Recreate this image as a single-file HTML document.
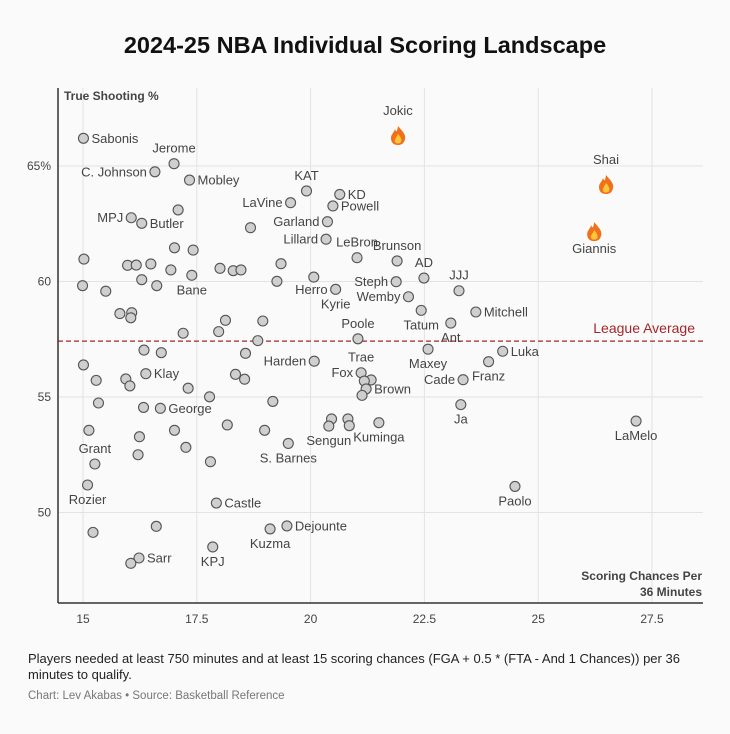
<!DOCTYPE html>
<html><head><meta charset="utf-8">
<style>
body{margin:0;background:#fafafa;width:730px;height:729px;overflow:hidden;font-family:"Liberation Sans",sans-serif;}
svg text{font-family:"Liberation Sans",sans-serif;}
</style></head>
<body>
<svg id="chart" width="730" height="729" xmlns="http://www.w3.org/2000/svg">
<rect width="730" height="729" fill="#fafafa"/>
<text x="365" y="53" text-anchor="middle" font-size="23.5" font-weight="bold" fill="#111">2024-25 NBA Individual Scoring Landscape</text>
<g id="grid"></g>
<g id="marks"></g>
<g id="labels"></g>
<line x1="58" y1="88" x2="58" y2="603" stroke="#333" stroke-width="1.5"/>
<line x1="58" y1="603" x2="703" y2="603" stroke="#333" stroke-width="1.5"/>
<text x="64" y="100" font-size="12" font-weight="bold" fill="#444">True Shooting %</text>
<text x="702" y="580" text-anchor="end" font-size="12" font-weight="bold" fill="#444">Scoring Chances Per</text>
<text x="702" y="596" text-anchor="end" font-size="12" font-weight="bold" fill="#444">36 Minutes</text>
<text x="28" y="663" font-size="13" fill="#222">Players needed at least 750 minutes and at least 15 scoring chances (FGA + 0.5 * (FTA - And 1 Chances)) per 36</text>
<text x="28" y="679" font-size="13" fill="#222">minutes to qualify.</text>
<text x="28" y="699" font-size="11.5" fill="#777">Chart: Lev Akabas • Source: Basketball Reference</text>
</svg>
<script>
const xTicks=[15,17.5,20,22.5,25,27.5];
const xTickLabels=["15","17.5","20","22.5","25","27.5"];
const yTicks=[50,55,60,65];
const yTickLabels=["50","55","60","65%"];
const leagueAvg=57.42;
const chanceVals=[15.01,17.0,16.58,17.34,17.09,16.06,16.29,18.68,19.91,19.56,20.64,20.49,20.37,20.34,21.02,15.02,17.01,17.42,15.98,16.17,16.49,19.35,16.93,18.01,18.30,18.47,17.39,16.29,16.62,14.99,15.50,19.26,20.07,20.55,15.81,16.07,16.05,18.13,18.95,17.20,17.98,18.84,21.04,21.90,22.49,23.26,21.88,22.15,22.43,23.63,23.08,22.58,24.22,23.91,23.35,23.30,20.08,21.11,21.33,21.18,21.22,21.13,20.46,20.40,20.82,20.85,21.50,19.51,16.34,16.72,18.57,15.01,15.29,15.94,16.03,16.38,17.31,17.78,18.35,18.55,19.17,15.34,16.33,16.70,15.13,16.24,17.01,18.17,18.99,17.26,16.21,15.26,17.80,15.10,17.93,15.22,16.61,19.11,19.48,17.85,16.23,16.05,24.49,27.15];
const tsVals=[66.2,65.1,64.75,64.39,63.1,62.76,62.52,62.33,63.92,63.41,63.77,63.27,62.59,61.83,61.03,60.97,61.46,61.36,60.70,60.71,60.76,60.77,60.50,60.57,60.47,60.50,60.27,60.08,59.82,59.82,59.58,60.01,60.19,59.66,58.61,58.65,58.43,58.32,58.29,57.76,57.83,57.44,57.52,60.89,60.15,59.60,59.99,59.34,58.75,58.68,58.20,57.07,56.98,56.53,55.75,54.67,56.55,56.05,55.74,55.69,55.35,55.07,54.05,53.74,54.05,53.76,53.89,52.99,57.03,56.92,56.89,56.39,55.72,55.78,55.48,56.01,55.38,55.01,55.98,55.77,54.81,54.74,54.55,54.51,53.56,53.28,53.56,53.79,53.56,52.82,52.50,52.10,52.20,51.19,50.41,49.14,49.40,49.29,49.42,48.51,48.03,47.80,51.13,53.96];
const fireNames=["Jokic","Shai","Giannis"];
const fireX=[21.92,26.49,26.23];
const fireY=[66.3,64.18,62.14];
// labels: [name, pointIndex, placement]
const labelList=[["Sabonis",0,"r"],["Jerome",1,"a"],["C. Johnson",2,"l"],["Mobley",3,"r"],["MPJ",5,"l"],["Butler",6,"r"],["KAT",8,"a"],["LaVine",9,"l"],["KD",10,"r"],["Powell",11,"r"],["Garland",12,"l"],["Lillard",13,"l"],["LeBron",14,"a"],["Brunson",43,"a"],["AD",44,"a"],["JJJ",45,"a"],["Steph",46,"l"],["Wemby",47,"l"],["Herro",33,"l"],["Kyrie",33,"b"],["Poole",42,"a"],["Tatum",48,"b"],["Mitchell",49,"r"],["Ant",50,"b"],["Luka",52,"r"],["Maxey",51,"b"],["Franz",53,"b"],["Cade",54,"l"],["Ja",55,"b"],["Harden",56,"l"],["Trae",57,"a"],["Fox",57,"l"],["Brown",60,"r"],["Sengun",63,"b"],["Kuminga",66,"b"],["S. Barnes",67,"b"],["Bane",26,"b"],["Klay",75,"r"],["George",83,"r"],["Grant",91,"a"],["Rozier",93,"b"],["Castle",94,"r"],["Dejounte",98,"r"],["Kuzma",97,"b"],["KPJ",99,"b"],["Sarr",100,"r"],["Paolo",102,"b"],["LaMelo",103,"b"]];
const X=v=>83+(v-15)*45.52;
const Y=v=>166-(v-65)*23.1;
const NS="http://www.w3.org/2000/svg";
function mk(tag,attrs,parent){const e=document.createElementNS(NS,tag);for(const k in attrs)e.setAttribute(k,attrs[k]);parent.appendChild(e);return e;}
const grid=document.getElementById('grid'),marks=document.getElementById('marks'),labs=document.getElementById('labels');
xTicks.forEach((t,i)=>{
 const l=mk('line',{x1:X(t),x2:X(t),y1:88,y2:603,stroke:'#e3e3e3','stroke-width':1},grid);
 
 
 const tx=mk('text',{x:X(t),y:623,'text-anchor':'middle','font-size':12,fill:'#444'},grid);
 tx.textContent=xTickLabels[i];
 
 
});
yTicks.forEach((t,i)=>{
 const l=mk('line',{x1:58,x2:703,y1:Y(t),y2:Y(t),stroke:'#e3e3e3','stroke-width':1},grid);
 
 
 const tx=mk('text',{x:51,y:Y(t)+4,'text-anchor':'end','font-size':12,fill:'#444'},grid);
 tx.textContent=yTickLabels[i];
 
 
});
const avg=mk('line',{x1:58,x2:703,y1:Y(leagueAvg),y2:Y(leagueAvg),stroke:'#a3262a','stroke-width':1.3,'stroke-dasharray':'5,3'},grid);


const avgT=mk('text',{x:695,y:Y(leagueAvg)-8,'text-anchor':'end','font-size':14,fill:'#a3262a'},grid);
avgT.textContent='League Average';


chanceVals.forEach((v,i)=>{
 const c=mk('circle',{cx:X(v),cy:Y(tsVals[i]),r:5,fill:'#cfcfcf',stroke:'#555','stroke-width':1.1},marks);
 
 
});
fireNames.forEach((n,i)=>{
 const cx=X(fireX[i]),cy=Y(fireY[i]);
 const g=mk('g',{transform:`translate(${cx},${cy})`},marks);
 
 
 mk('path',{d:'M0,-10 C4,-5 8,-2 7,3 C6,8 3,9 0,9 C-4,9 -7,7 -7,2 C-7,-2 -4,-3 -3,-7 C-2,-4 -1,-3 0,-10Z',fill:'#f0701c'},g);
 mk('path',{d:'M0,-2 C3,1 4,4 3,6 C2,8 -2,8 -3,6 C-4,4 -2,2 0,-2Z',fill:'#ffc53a'},g);
 const t=mk('text',{x:cx,y:i==2?cy+21:cy-21,'text-anchor':'middle','font-size':13,fill:'#444'},labs);
 t.textContent=n;
 
 
});
labelList.forEach(([n,i,p])=>{
 const cx=X(chanceVals[i]),cy=Y(tsVals[i]);
 let x=cx,y=cy+4.5,a='middle';
 if(p=='r'){x=cx+8;a='start';}
 else if(p=='l'){x=cx-8;a='end';}
 else if(p=='a'){y=cy-11;}
 else if(p=='b'){y=cy+19;}
 const t=mk('text',{x:x,y:y,'text-anchor':a,'font-size':13,fill:'#444'},labs);
 t.textContent=n;
 
 
});
</script>
</body></html>
